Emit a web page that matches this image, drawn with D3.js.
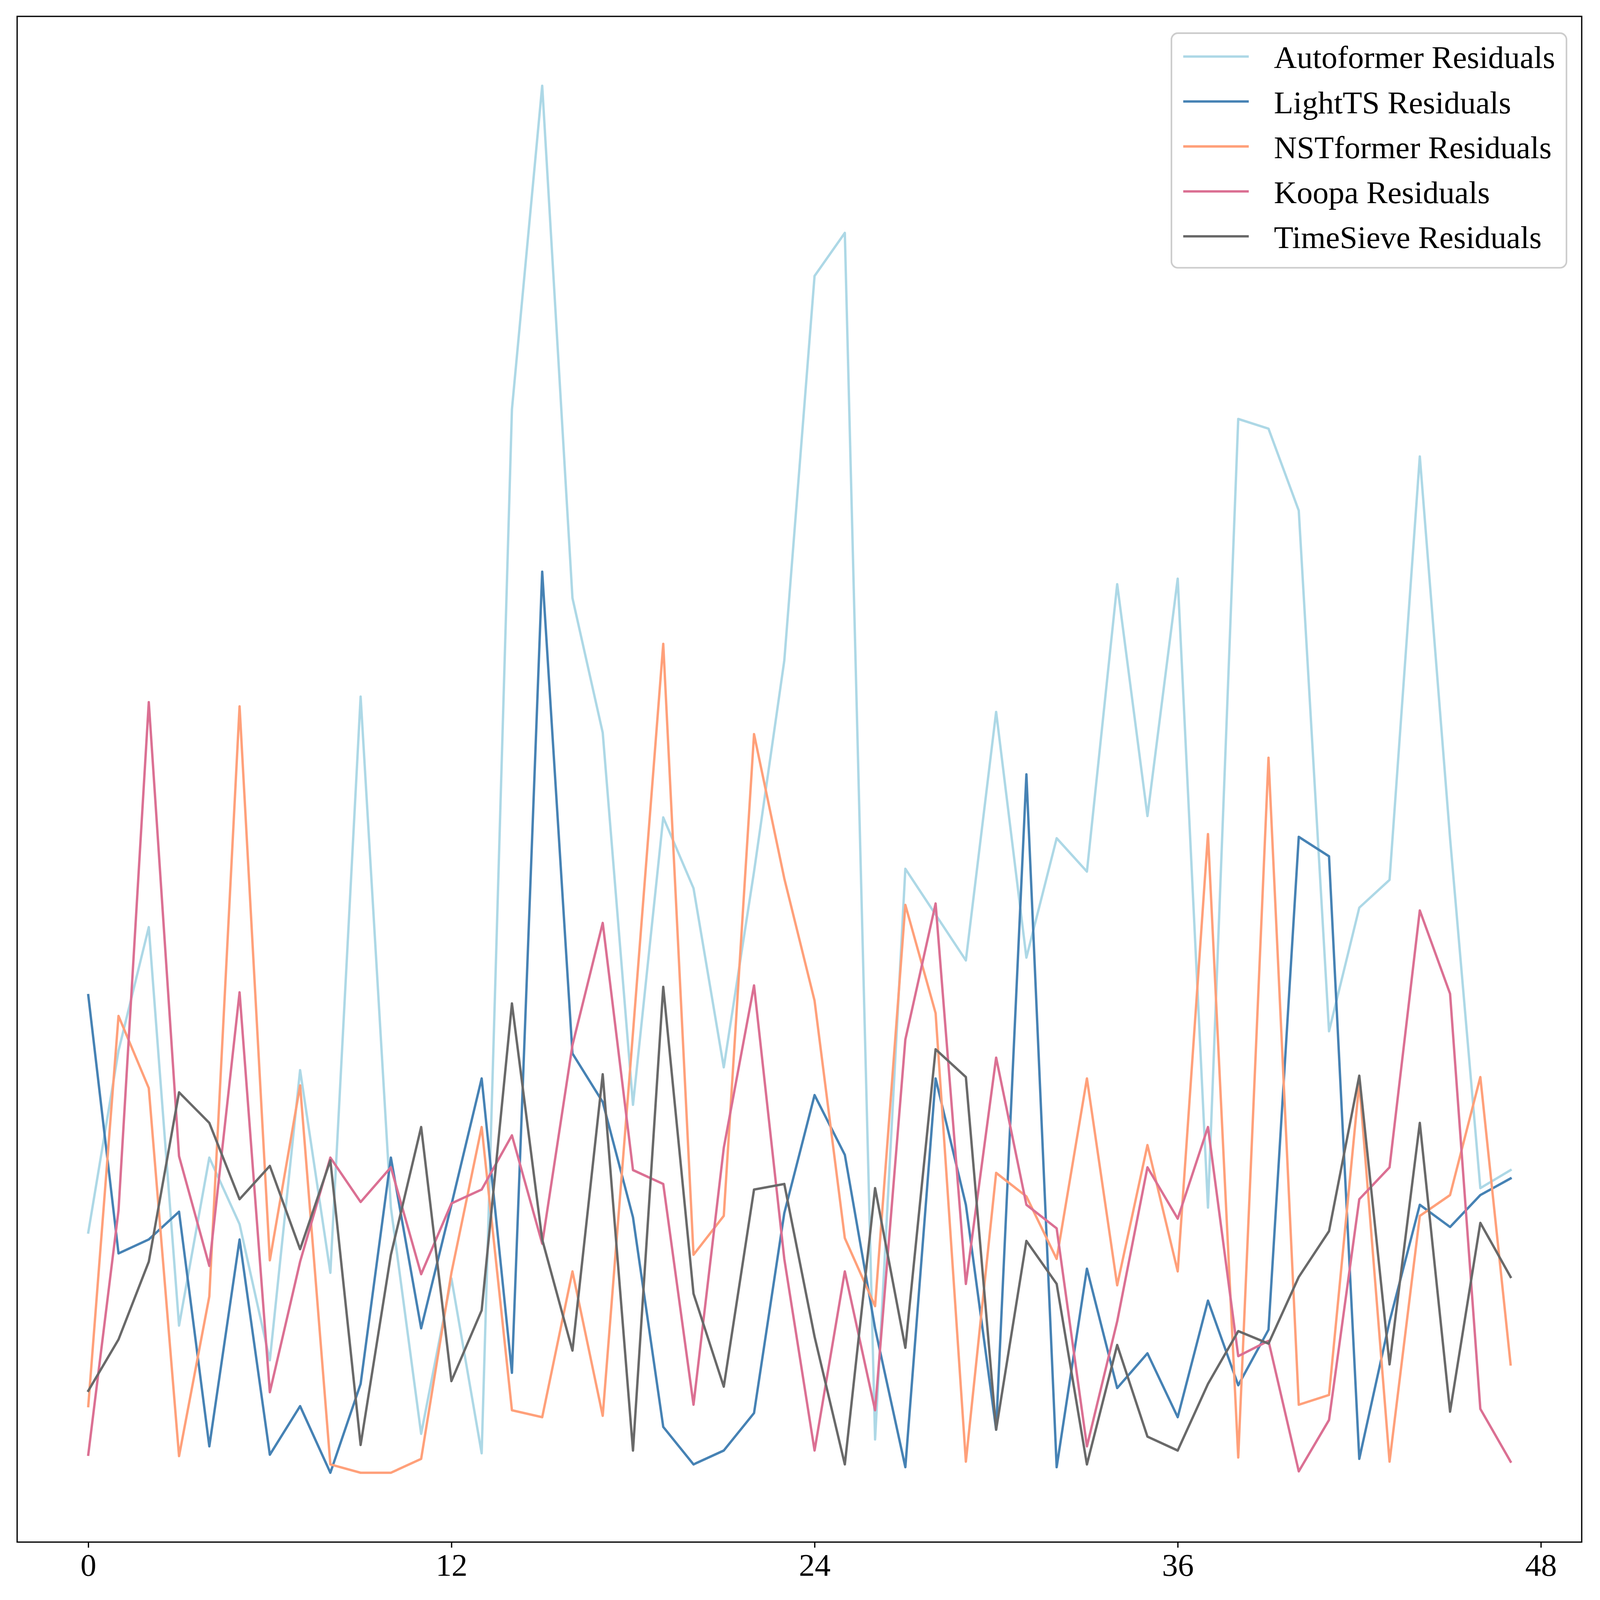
<!DOCTYPE html>
<html>
<head>
<meta charset="utf-8">
<script src="https://cdn.jsdelivr.net/npm/d3@7"></script>
<style>
  html, body { margin: 0; padding: 0; background: #ffffff; overflow: hidden; width: 100%; height: 100%; }
  svg { display: block; width: 100vw; height: 100vh; }
</style>
</head>
<body>
<svg id="chart" viewBox="0 0 4200 4200" preserveAspectRatio="xMidYMid meet"></svg>
<script>
// ---- data ----
const steps = d3.range(0, 48);
const xTicks = [0, 12, 24, 36, 48];

const seriesNames = ["Autoformer Residuals", "LightTS Residuals", "NSTformer Residuals", "Koopa Residuals", "TimeSieve Residuals"];
const seriesColors = ["#add8e6", "#4682b4", "#ffa07a", "#db7093", "#696969"];

const autoformer = [17.4, 30.5, 39.4, 10.7, 22.8, 18.0, 8.2, 29.1, 14.5, 56.0,
  19.2, 2.9, 14.1, 1.5, 76.7, 100.0, 63.1, 53.4, 26.6, 47.3,
  42.2, 29.3, 43.4, 58.6, 86.3, 89.4, 2.5, 43.6, 40.3, 37.0,
  54.9, 37.2, 45.8, 43.4, 64.1, 47.4, 64.5, 19.2, 76.0, 75.3,
  69.4, 31.9, 40.8, 42.8, 73.3, 45.8, 20.6, 21.9];

const lightts = [34.5, 15.9, 16.9, 18.9, 2.0, 16.9, 1.4, 4.9, 0.1, 6.5,
  22.8, 10.5, 19.4, 28.5, 7.3, 65.0, 30.3, 26.8, 18.5, 3.4,
  0.7, 1.7, 4.4, 18.8, 27.3, 23.0, 10.5, 0.5, 28.5, 19.4,
  3.2, 50.4, 0.5, 14.8, 6.2, 8.7, 4.1, 12.5, 6.4, 10.4,
  45.9, 44.5, 1.1, 11.0, 19.4, 17.8, 20.1, 21.3];

const nstformer = [4.9, 33.0, 27.8, 1.3, 12.8, 55.3, 15.4, 28.0, 0.7, 0.1,
  0.1, 1.1, 14.5, 25.0, 4.6, 4.1, 14.6, 4.2, 31.8, 59.8,
  15.8, 18.6, 53.3, 42.9, 34.1, 17.0, 12.1, 41.0, 33.2, 0.9,
  21.7, 20.0, 15.5, 28.5, 13.6, 23.7, 14.6, 46.1, 1.2, 51.6,
  5.0, 5.7, 28.2, 0.9, 18.6, 20.1, 28.6, 7.9];

const koopa = [1.4, 19.0, 55.6, 22.9, 15.0, 34.7, 5.9, 15.3, 22.8, 19.6,
  22.1, 14.4, 19.5, 20.5, 24.4, 16.6, 30.9, 39.7, 21.9, 20.9,
  5.0, 23.5, 35.2, 15.5, 1.7, 14.6, 4.6, 31.3, 41.1, 13.7,
  30.0, 19.4, 17.7, 2.0, 11.0, 22.1, 18.4, 25.0, 8.5, 9.6,
  0.2, 3.9, 19.8, 22.1, 40.6, 34.6, 4.7, 0.9];

const timesieve = [6.0, 9.7, 15.3, 27.5, 25.3, 19.8, 22.2, 16.2, 22.6, 2.1,
  15.8, 25.0, 6.7, 11.8, 33.9, 16.9, 8.9, 28.8, 1.7, 35.1,
  13.0, 6.3, 20.5, 20.9, 9.9, 0.7, 20.6, 9.1, 30.6, 28.6,
  3.2, 16.8, 13.7, 0.7, 9.3, 2.7, 1.7, 6.5, 10.3, 9.4,
  14.2, 17.5, 28.7, 7.9, 25.3, 4.5, 18.1, 14.2];

const seriesValues = [autoformer, lightts, nstformer, koopa, timesieve];

// ---- layout ----
const W = 4200, H = 4200;
const plot = { left: 45, right: 4152, top: 43, bottom: 4048 };
const px = 300 / 72; // points -> pixels at 300 dpi
const fontPx = 20 * px;

const svg = d3.select("#chart");
svg.append("rect").attr("width", W).attr("height", H).attr("fill", "#ffffff");

// scales with matplotlib-like 5% margins
const xExt = d3.extent(steps);
const xPad = (xExt[1] - xExt[0]) * 0.05;
const x = d3.scaleLinear().domain([xExt[0] - xPad, xExt[1] + xPad]).range([plot.left, plot.right]);

const allVals = seriesValues.flat();
const yExt = d3.extent(allVals);
const yPad = (yExt[1] - yExt[0]) * 0.05;
const y = d3.scaleLinear().domain([yExt[0] - yPad, yExt[1] + yPad]).range([plot.bottom, plot.top]);

const line = d3.line().x((d, i) => x(steps[i])).y(d => y(d));

const g = svg.append("g");
seriesValues.forEach((vals, k) => {
  g.append("path")
    .datum(vals)
    .attr("d", line)
    .attr("fill", "none")
    .attr("stroke", seriesColors[k])
    .attr("stroke-width", 1.5 * px)
    .attr("stroke-linejoin", "round")
    .attr("stroke-linecap", "square");
});

// frame (spines)
svg.append("rect")
  .attr("x", plot.left).attr("y", plot.top)
  .attr("width", plot.right - plot.left).attr("height", plot.bottom - plot.top)
  .attr("fill", "none").attr("stroke", "#000").attr("stroke-width", 0.8 * px);

// x axis
const xAxis = d3.axisBottom(x).tickValues(xTicks).tickSize(3.5 * px).tickPadding(3.5 * px).tickFormat(d3.format("d"));
const ax = svg.append("g").attr("transform", `translate(0,${plot.bottom})`).call(xAxis);
ax.select(".domain").remove();
ax.selectAll(".tick line").attr("stroke", "#000").attr("stroke-width", 0.8 * px);
ax.selectAll(".tick text")
  .attr("fill", "#000")
  .attr("font-family", "'Liberation Serif', 'Times New Roman', serif")
  .attr("font-size", fontPx)
  .attr("dy", "0.71em");

// legend
const leg = { x: 3075, y: 87, w: 1037, h: 616 };
const lg = svg.append("g");
lg.append("rect")
  .attr("x", leg.x).attr("y", leg.y).attr("width", leg.w).attr("height", leg.h)
  .attr("rx", 17).attr("ry", 17)
  .attr("fill", "#ffffff").attr("fill-opacity", 0.8)
  .attr("stroke", "#cccccc").attr("stroke-width", 1 * px);

const rowY0 = 148.4, rowDy = 118;
seriesNames.forEach((name, k) => {
  const ry = rowY0 + k * rowDy;
  lg.append("line")
    .attr("x1", 3106).attr("x2", 3278).attr("y1", ry).attr("y2", ry)
    .attr("stroke", seriesColors[k]).attr("stroke-width", 1.5 * px);
  lg.append("text")
    .attr("x", 3344).attr("y", ry + 30.5)
    .attr("font-family", "'Liberation Serif', 'Times New Roman', serif")
    .attr("font-size", fontPx)
    .attr("fill", "#000")
    .text(name);
});
</script>
</body>
</html>
